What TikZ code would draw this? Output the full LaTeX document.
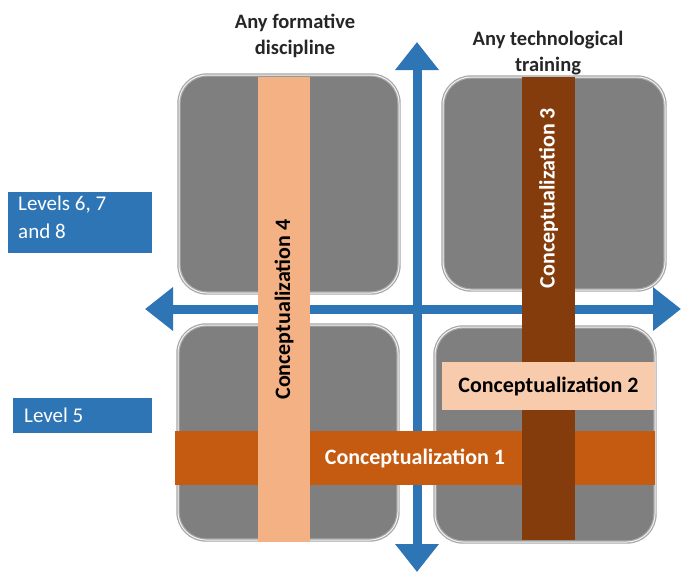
\documentclass[tikz,border=0pt]{standalone}
\usepackage{fontspec}
\setmainfont{Carlito}
\usetikzlibrary{arrows.meta}

\definecolor{cellgray}{HTML}{7F7F7F}
\definecolor{cellrim}{HTML}{A6A6A6}
\definecolor{levelblue}{HTML}{2E75B6}
\definecolor{concone}{HTML}{C55A11}
\definecolor{conctwo}{HTML}{F8CBAD}
\definecolor{concthree}{HTML}{843C0C}
\definecolor{concfour}{HTML}{F4B183}

\begin{document}
\begin{tikzpicture}[x=1pt, y=-1pt,
    cell/.style={draw=cellrim, double=white!85!cellrim, double distance=1pt, line width=1.2pt,
                 fill=cellgray, rounded corners=28pt, minimum width=#1, inner sep=0pt},
    bar/.style={fill=#1, draw=none, inner sep=0pt, font=\fontsize{22}{24}\selectfont\bfseries},
    level/.style={fill=levelblue, text=white, inner sep=0pt, font=\fontsize{21}{28}\selectfont},
    axis/.style={levelblue, line width=9pt, {Triangle[length=28pt,width=42pt]}-{Triangle[length=28pt,width=42pt]}},
    heading/.style={align=center, font=\fontsize{20.5}{26}\selectfont\bfseries, text=black!85}]

    % Moldura
    \useasboundingbox (0,0) rectangle (681,574);

    % Quadrantes
    \node[cell=220pt, minimum height=218pt] (tl) at (289,184) {};
    \node[cell=222pt, minimum height=213pt] (tr) at (554,183.5) {};
    \node[cell=220pt, minimum height=215pt] (bl) at (288,432.5) {};
    \node[cell=220pt, minimum height=215pt] (br) at (545,434.5) {};

    % Eixos
    \coordinate (top) at (417,42);
    \coordinate (bottom) at (417,572);
    \coordinate (left) at (145,309);
    \coordinate (right) at (681,309);
    \draw[axis] (bottom) -- (top);
    \draw[axis] (left) -- (right);

    % Conceitualizacoes
    \node[bar=concone, text=white, minimum width=480pt, minimum height=54pt] (c1) at (415,458) {Conceptualization 1};
    \node[bar=concfour, rotate=90, minimum width=465pt, minimum height=52pt] (c4) at (284,309.5) {Conceptualization 4};
    \node[bar=concthree, minimum width=53pt, minimum height=463pt] (c3) at (548.5,308.5) {};
    \node[bar=concthree, text=white, rotate=90] (c3text) at (548.5,198) {Conceptualization 3};
    \node[bar=conctwo, minimum width=213pt, minimum height=48pt] (c2) at (548.5,386) {Conceptualization 2};

    % Niveis
    \node[level, minimum width=144pt, minimum height=61pt] (high) at (80,222.5) {};
    \node[level, anchor=north west, align=left] (hightext) at (18,196) {Levels 6, 7\\and 8};
    \node[level, minimum width=139pt, minimum height=35pt] (low) at (82.5,415.5) {};
    \node[level, anchor=west] (lowtext) at (24,415.5) {Level 5};

    % Titulos
    \node[heading] (formative) at (295,36) {Any formative\\discipline};
    \node[heading] (techno) at (548,53) {Any technological\\training};
\end{tikzpicture}
\end{document}
